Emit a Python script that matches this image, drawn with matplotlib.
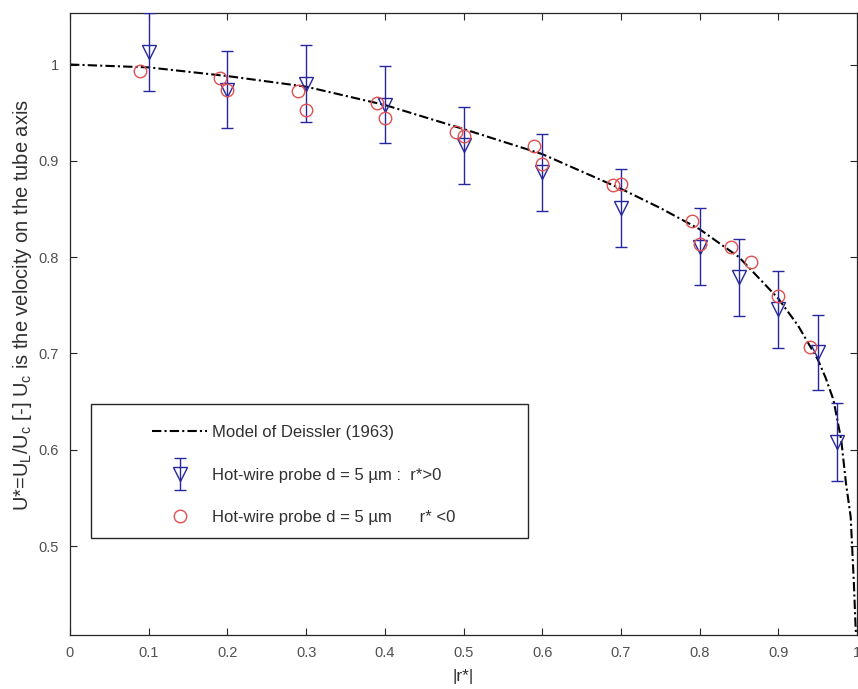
import numpy as np
import matplotlib
matplotlib.use("Agg")
import matplotlib.pyplot as plt
from matplotlib.patches import Rectangle
from matplotlib.legend_handler import HandlerErrorbar

plt.rcParams['font.family'] = ['Liberation Sans', 'DejaVu Sans']
plt.rcParams['mathtext.fontset'] = 'custom'
plt.rcParams['mathtext.rm'] = 'Liberation Sans'
plt.rcParams['mathtext.it'] = 'Liberation Sans:italic'

# Deissler (1963) model curve
model_r = [0, 0.1, 0.2, 0.3, 0.4, 0.5, 0.6, 0.7, 0.75, 0.8, 0.85, 0.9, 0.925,
           0.95, 0.96, 0.97, 0.98, 0.986, 0.992, 0.996, 0.998, 1.0]
model_u = [1.0, 0.997, 0.988, 0.977, 0.958, 0.933, 0.907, 0.871, 0.851, 0.829,
           0.800, 0.757, 0.729, 0.694, 0.675, 0.652, 0.610, 0.565, 0.530, 0.462,
           0.420, 0.390]

# hot-wire, r* > 0 (with error bars)
pos_r = [0.1, 0.2, 0.3, 0.4, 0.5, 0.6, 0.7, 0.8, 0.85, 0.9, 0.95, 0.975]
pos_u = [1.013, 0.974, 0.980, 0.958, 0.916, 0.888, 0.851, 0.811, 0.779, 0.746,
         0.701, 0.608]
pos_err = [0.040, 0.040, 0.040, 0.040, 0.040, 0.040, 0.040, 0.040, 0.040,
           0.040, 0.039, 0.040]

# hot-wire, r* < 0 (plotted as |r*|)
neg_r = [0.089, 0.19, 0.20, 0.29, 0.30, 0.39, 0.40, 0.49, 0.50, 0.59, 0.60,
         0.69, 0.70, 0.79, 0.80, 0.84, 0.865, 0.90, 0.94]
neg_u = [0.993, 0.986, 0.974, 0.972, 0.953, 0.960, 0.944, 0.930, 0.926, 0.915,
         0.897, 0.875, 0.876, 0.838, 0.814, 0.810, 0.795, 0.760, 0.707]

xticks = [0, 0.1, 0.2, 0.3, 0.4, 0.5, 0.6, 0.7, 0.8, 0.9, 1]
yticks = [0.5, 0.6, 0.7, 0.8, 0.9, 1]

blue = '#2626a0'
red = '#e05050'
axc = '#262626'
tickc = '#505050'

W, H = 858, 689
fig = plt.figure(figsize=(W / 100, H / 100), dpi=100)
ax = fig.add_axes([70 / W, 1 - 635 / H, 787 / W, 622.3 / H])

mline, = ax.plot(model_r, model_u, color='k', lw=1.5,
                 dashes=(4.5, 1.5, 1, 1.5), zorder=2)
eb = ax.errorbar(pos_r, pos_u, yerr=pos_err, fmt='v', ms=9.5, mfc='none',
                 mec=blue, mew=1.0, ecolor=blue, elinewidth=1.0, capsize=4.5,
                 capthick=1.0, zorder=3)
circ, = ax.plot(neg_r, neg_u, 'o', ms=9, mfc='none', mec=red, mew=1.0,
                zorder=4)

ax.set_xlim(0, 1)
ax.set_ylim(0.4076, 1.0538)
ax.set_xticks(xticks)
ax.set_yticks(yticks)
ax.set_xticklabels([f"{v:g}" for v in xticks])
ax.set_yticklabels([f"{v:g}" for v in yticks])
ax.tick_params(direction='in', length=5, width=0.8, top=True, right=True,
               colors=axc, labelcolor=tickc, labelsize=10.5, pad=8)
for s in ax.spines.values():
    s.set_color(axc)
    s.set_linewidth(0.9)

ax.set_xlabel('|r*|', fontsize=12.5, color='#303030')
ax.xaxis.set_label_coords(0.5, -0.055)
ax.set_ylabel(r'U*=U$_\mathrm{L}$/U$_\mathrm{c}$ [-] U$_\mathrm{c}$ is the velocity on the tube axis',
              fontsize=14.5, color='#303030')
ax.yaxis.set_label_coords(-0.046, 0.53)

# legend frame drawn as a box, entries placed inside it
x0, x1 = (91 - 70) / 787, (528 - 70) / 787
y0, y1 = (635 - 538) / 622.3, (635 - 404) / 622.3
ax.add_patch(Rectangle((x0, y0), x1 - x0, y1 - y0, transform=ax.transAxes,
                       facecolor='white', edgecolor=axc, lw=1.0, zorder=5))
leg_labels = ['Model of Deissler (1963)',
              'Hot-wire probe d = 5 \u00b5m :  r*>0',
              'Hot-wire probe d = 5 \u00b5m      r* <0']
leg = ax.legend([mline, eb, circ], leg_labels, frameon=False, loc='upper left',
                bbox_to_anchor=((152 - 70) / 787, (635 - 425) / 622.3),
                borderaxespad=0, borderpad=0, handlelength=3.3,
                handletextpad=0.3, labelspacing=1.66, fontsize=12,
                handler_map={type(eb): HandlerErrorbar(yerr_size=0.95)})
leg.set_zorder(6)
for t in leg.get_texts():
    t.set_color('#303030')

fig.savefig('out.png', dpi=100)
